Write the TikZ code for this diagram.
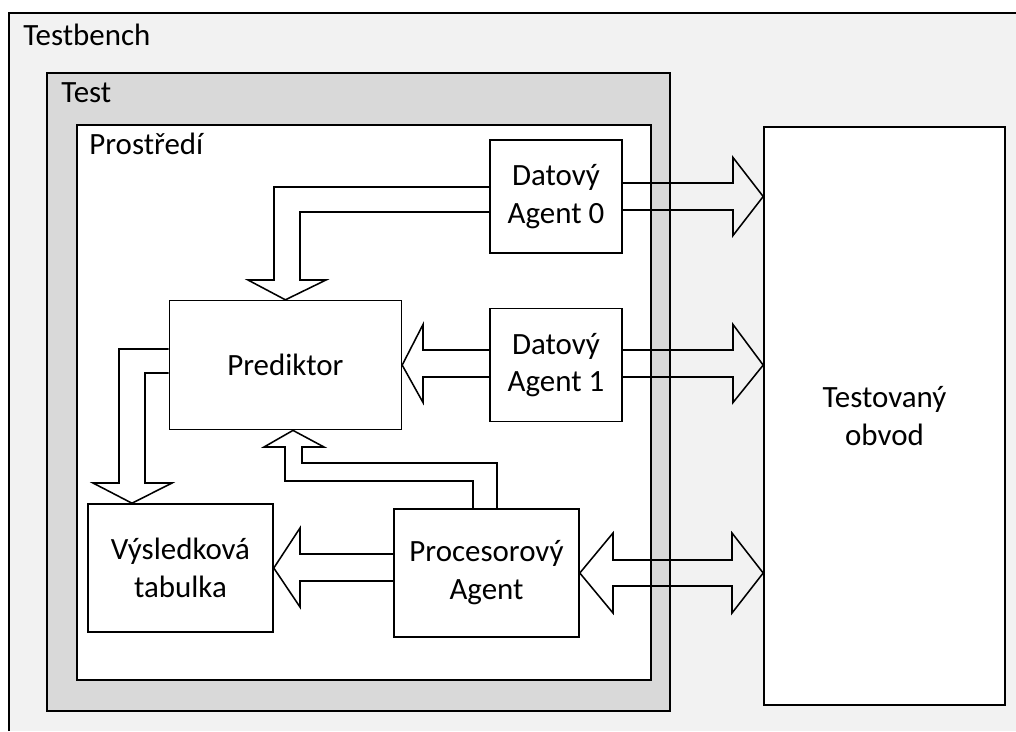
\documentclass[tikz,border=0pt]{standalone}
\usepackage{fontspec}
\setmainfont{Carlito}
\usetikzlibrary{calc}
\usetikzlibrary{positioning}

\definecolor{benchgray}{HTML}{F2F2F2}
\definecolor{testgray}{HTML}{D9D9D9}

\begin{document}
\begin{tikzpicture}[x=0.025cm, y=-0.025cm,
        every node/.style={font=\fontsize{22}{27}\selectfont},
        box/.style={draw, fill=white, line width=1.1pt, align=center, inner sep=0pt},
        title/.style={anchor=base west, inner sep=0pt},
        blockarrow/.style={draw, line width=1.1pt, line join=miter}]
        \useasboundingbox (0,0) rectangle (1016,731);

        % testbench runs off the page
        \fill[benchgray] (9,13) rectangle (1016,731);
        \draw[line width=1.1pt] (9,731) |- (1016,13);
        \coordinate (bench corner) at (9,13);
        \node[title] (bench label) at ($(bench corner)+(14,32)$) {Testbench};

        \node[box, fill=testgray, minimum width=15.575cm, minimum height=15.95cm] (test) at (358.5,392) {};
        \node[title] (test label) at ($(test.north west)+(15,30)$) {Test};

        \node[box, minimum width=14.35cm, minimum height=13.875cm] (env) at (364,402.5) {};
        \node[title] (env label) at ($(env.north west)+(13,30)$) {Prostředí};

        \node[box, minimum width=3.3cm, minimum height=2.825cm] (agent0) at (556,196.5) {Datový\\Agent 0};
        \node[box, minimum width=3.3cm, minimum height=2.825cm, below=1.35cm of agent0] (agent1) {Datový\\Agent 1};
        \node[box, minimum width=5.8cm, minimum height=3.225cm, left=2.175cm of agent1] (pred) {Prediktor};
        \node[box, minimum width=4.625cm, minimum height=3.2cm] (score) at (180.5,568) {Výsledková\\tabulka};
        \node[box, minimum width=4.625cm, minimum height=3.2cm] (proc) at (486.5,573) {Procesorový\\Agent};
        \node[box, minimum width=6.025cm, minimum height=14.45cm] (dut) at (884.5,416) {Testovaný\\obvod};

        % data agents to the DUT
        \draw[blockarrow] (agent0.east |- 0,183) -- (733,183) -- (733,157.5) -- (dut.west |- agent0.east) -- (733,235.5) -- (733,210) -- (agent0.east |- 0,210);
        \draw[blockarrow] (agent1.east |- 0,350) -- (733,350) -- (733,324.5) -- (dut.west |- agent1.east) -- (733,402.5) -- (733,377) -- (agent1.east |- 0,377);

        % data agents to the predictor
        \draw[blockarrow] (agent1.west |- 0,350) -- (423,350) -- (423,324.5) -- (pred.east) -- (423,402.5) -- (423,377) -- (agent1.west |- 0,377);
        \draw[blockarrow] (agent0.west |- 0,187) -- (274,187) -- (274,280) -- (248,280) -- (pred.north) -- (326,280) -- (300,280) -- (300,212) -- (agent0.west |- 0,212);

        % predictor to the score table
        \draw[blockarrow] (pred.west |- 0,349) -- (119,349) -- (119,483) -- (93,483) -- (score.north -| 132,0) -- (172,483) -- (145,483) -- (145,373) -- (pred.west |- 0,373);

        % processor agent
        \draw[blockarrow] (proc.north -| 473,0) -- (473,481) -- (285,481) -- (285,447) -- (264,447) -- (pred.south -| 293,0) -- (324,447) -- (302,447) -- (302,463) -- (497,463) -- (proc.north -| 497,0);
        \draw[blockarrow] (proc.west |- 0,554) -- (300,554) -- (300,528) -- (score.east) -- (300,607) -- (300,581) -- (proc.west |- 0,581);
        \draw[blockarrow] (proc.east) -- (613,533) -- (613,560) -- (732,560) -- (732,533) -- (dut.west |- proc.east) -- (732,613) -- (732,586) -- (613,586) -- (613,613) -- cycle;
\end{tikzpicture}
\end{document}
